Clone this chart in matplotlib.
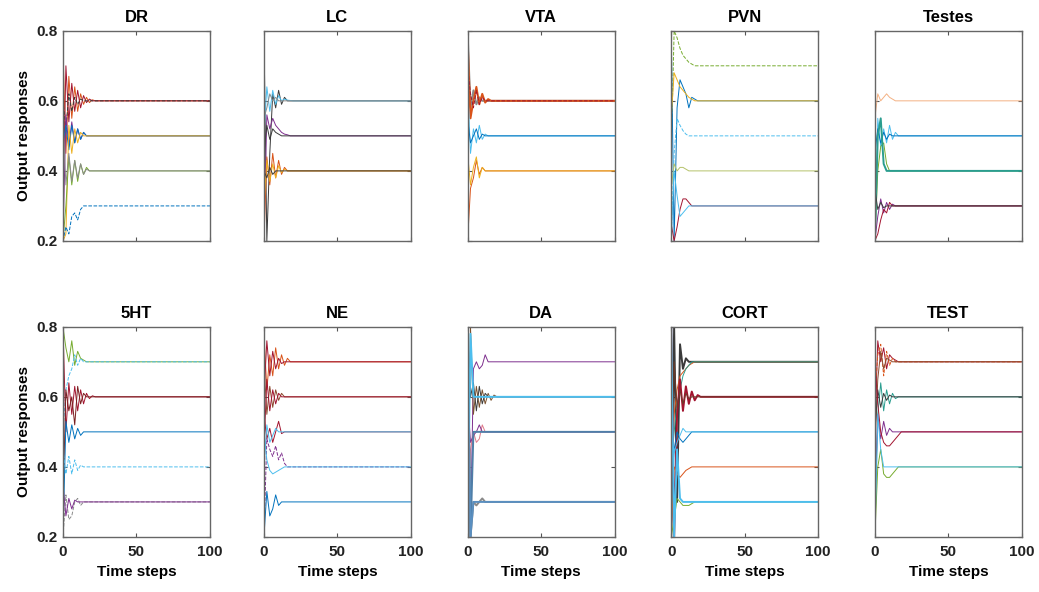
import matplotlib.pyplot as plt

plt.rcParams['font.family'] = ['Liberation Sans', 'DejaVu Sans']
plt.rcParams['font.weight'] = 'bold'

# output of each region: early transient sampled every 2 time steps from t=0,
# then the level the trace holds until t=100
sample_every = 2
titles = ['DR', 'LC', 'VTA', 'PVN', 'Testes', '5HT', 'NE', 'DA', 'CORT', 'TEST']

dr_early = [
    [0.75, 0.45, 0.67, 0.55, 0.64, 0.57, 0.62, 0.59, 0.61, 0.595, 0.603, 0.60],
    [0.30, 0.70, 0.54, 0.65, 0.57, 0.63, 0.58, 0.615, 0.595, 0.605, 0.60],
    [0.60, 0.52, 0.62, 0.57, 0.61, 0.59, 0.605, 0.60],
    [0.20, 0.56, 0.47, 0.54, 0.48, 0.52, 0.49, 0.51, 0.50],
    [0.48, 0.53, 0.46, 0.53, 0.48, 0.52, 0.49, 0.51, 0.50],
    [0.20, 0.22, 0.53, 0.45, 0.52, 0.48, 0.51, 0.50],
    [0.20, 0.30, 0.44, 0.36, 0.43, 0.37, 0.42, 0.39, 0.41, 0.40],
    [0.55, 0.36, 0.45, 0.37, 0.43, 0.38, 0.42, 0.39, 0.405, 0.40],
    [0.20, 0.24, 0.22, 0.27, 0.28, 0.26, 0.29, 0.30],
]
dr_hold = [0.6, 0.6, 0.6, 0.5, 0.5, 0.5, 0.4, 0.4, 0.3]

lc_early = [
    [0.80, 0.20, 0.45, 0.62, 0.58, 0.63, 0.59, 0.61, 0.60],
    [0.50, 0.64, 0.57, 0.63, 0.59, 0.615, 0.60, 0.605, 0.602, 0.601, 0.60],
    [0.55, 0.58, 0.62, 0.60, 0.61, 0.60],
    [0.20, 0.56, 0.52, 0.55, 0.53, 0.52, 0.51, 0.505, 0.503, 0.50],
    [0.45, 0.53, 0.49, 0.52, 0.51, 0.505, 0.50],
    [0.20, 0.44, 0.36, 0.45, 0.38, 0.43, 0.39, 0.41, 0.40],
    [0.30, 0.43, 0.37, 0.42, 0.38, 0.415, 0.395, 0.405, 0.40],
    [0.40, 0.38, 0.41, 0.39, 0.40],
]
lc_hold = [0.6, 0.6, 0.6, 0.5, 0.5, 0.4, 0.4, 0.4]

vta_early = [
    [0.80, 0.58, 0.63, 0.59, 0.61, 0.60],
    [0.78, 0.55, 0.60, 0.64, 0.59, 0.62, 0.595, 0.605, 0.60],
    [0.70, 0.62, 0.58, 0.63, 0.59, 0.61, 0.60],
    [0.65, 0.45, 0.52, 0.48, 0.53, 0.49, 0.505, 0.50],
    [0.55, 0.48, 0.50, 0.52, 0.49, 0.505, 0.50],
    [0.20, 0.35, 0.38, 0.43, 0.39, 0.41, 0.40],
    [0.45, 0.36, 0.41, 0.44, 0.38, 0.41, 0.40],
]
vta_hold = [0.6, 0.6, 0.6, 0.5, 0.5, 0.4, 0.4]

pvn_early = [
    [0.45, 0.80, 0.78, 0.75, 0.73, 0.72, 0.71, 0.705, 0.70],
    [0.80, 0.20, 0.58, 0.66, 0.64, 0.62, 0.58, 0.61, 0.605, 0.60],
    [0.55, 0.68, 0.66, 0.64, 0.63, 0.62, 0.61, 0.605, 0.60],
    [0.20, 0.45, 0.55, 0.53, 0.515, 0.505, 0.50],
    [0.35, 0.42, 0.40, 0.41, 0.41, 0.405, 0.40],
    [0.25, 0.20, 0.24, 0.29, 0.32, 0.32, 0.31, 0.30],
    [0.20, 0.40, 0.33, 0.27, 0.28, 0.29, 0.30],
]
pvn_hold = [0.7, 0.6, 0.6, 0.5, 0.4, 0.3, 0.3]

testes_early = [
    [0.55, 0.62, 0.60, 0.61, 0.62, 0.61, 0.605, 0.60],
    [0.20, 0.55, 0.47, 0.52, 0.48, 0.53, 0.49, 0.51, 0.50],
    [0.45, 0.52, 0.48, 0.51, 0.49, 0.505, 0.50],
    [0.20, 0.40, 0.47, 0.48, 0.42, 0.40],
    [0.20, 0.50, 0.55, 0.42, 0.40],
    [0.20, 0.27, 0.32, 0.28, 0.31, 0.29, 0.305, 0.30],
    [0.20, 0.22, 0.26, 0.29, 0.28, 0.31, 0.30],
    [0.35, 0.29, 0.31, 0.295, 0.30],
]
testes_hold = [0.6, 0.5, 0.5, 0.4, 0.4, 0.3, 0.3, 0.3]

ht5_early = [
    [0.80, 0.74, 0.70, 0.76, 0.69, 0.73, 0.71, 0.705, 0.70],
    [0.50, 0.62, 0.66, 0.68, 0.72, 0.69, 0.71, 0.70],
    [0.80, 0.50, 0.64, 0.55, 0.63, 0.56, 0.62, 0.58, 0.61, 0.595, 0.603, 0.60],
    [0.30, 0.62, 0.56, 0.60, 0.52, 0.63, 0.58, 0.61, 0.60],
    [0.20, 0.53, 0.47, 0.52, 0.48, 0.51, 0.49, 0.50],
    [0.45, 0.38, 0.43, 0.38, 0.42, 0.39, 0.405, 0.40],
    [0.20, 0.32, 0.25, 0.26, 0.30, 0.31, 0.29, 0.30],
    [0.35, 0.26, 0.31, 0.28, 0.305, 0.30],
]
ht5_hold = [0.7, 0.7, 0.6, 0.6, 0.5, 0.4, 0.3, 0.3]

ne_early = [
    [0.78, 0.62, 0.72, 0.66, 0.74, 0.68, 0.72, 0.69, 0.71, 0.70],
    [0.60, 0.76, 0.66, 0.73, 0.68, 0.71, 0.695, 0.70],
    [0.70, 0.55, 0.63, 0.57, 0.62, 0.59, 0.61, 0.60],
    [0.45, 0.65, 0.56, 0.62, 0.58, 0.61, 0.60],
    [0.55, 0.48, 0.51, 0.47, 0.50, 0.53, 0.495, 0.50],
    [0.40, 0.52, 0.47, 0.49, 0.51, 0.50],
    [0.20, 0.48, 0.45, 0.43, 0.46, 0.42, 0.44, 0.41, 0.40],
    [0.50, 0.42, 0.39, 0.38, 0.385, 0.39, 0.395, 0.40],
    [0.20, 0.33, 0.26, 0.28, 0.32, 0.29, 0.30],
]
ne_hold = [0.7, 0.7, 0.6, 0.6, 0.5, 0.5, 0.4, 0.4, 0.3]

da_early = [
    [0.80, 0.20, 0.68, 0.70, 0.68, 0.69, 0.72, 0.70],
    [0.20, 0.80, 0.55, 0.63, 0.57, 0.62, 0.58, 0.61, 0.59, 0.605, 0.60],
    [0.80, 0.60, 0.64, 0.56, 0.63, 0.58, 0.61, 0.60],
    [0.20, 0.45, 0.50, 0.47, 0.48, 0.52, 0.50],
    [0.60, 0.47, 0.49, 0.50, 0.52, 0.50],
    [0.80, 0.20, 0.30, 0.29, 0.30, 0.31, 0.30],
    [0.80, 0.20, 0.50, 0.50],
    [0.20, 0.78, 0.60, 0.60],
    [0.70, 0.20, 0.30, 0.30],
]
da_hold = [0.7, 0.6, 0.6, 0.5, 0.5, 0.3, 0.5, 0.6, 0.3]

cort_early = [
    [0.20, 0.80, 0.30, 0.75, 0.68, 0.71, 0.70],
    [0.30, 0.55, 0.62, 0.66, 0.67, 0.68, 0.69, 0.695, 0.70],
    [0.40, 0.50, 0.58, 0.62, 0.66, 0.68, 0.69, 0.70],
    [0.80, 0.20, 0.55, 0.65, 0.56, 0.63, 0.58, 0.615, 0.59, 0.605, 0.60],
    [0.25, 0.70, 0.57, 0.62, 0.58, 0.61, 0.595, 0.60],
    [0.20, 0.45, 0.50, 0.48, 0.47, 0.48, 0.49, 0.50],
    [0.50, 0.44, 0.47, 0.49, 0.51, 0.50],
    [0.20, 0.40, 0.38, 0.37, 0.38, 0.39, 0.395, 0.40],
    [0.20, 0.25, 0.31, 0.30, 0.29, 0.29, 0.29, 0.295, 0.30],
    [0.80, 0.20, 0.45, 0.31, 0.30],
]
cort_hold = [0.7, 0.7, 0.7, 0.6, 0.6, 0.5, 0.5, 0.4, 0.3, 0.3]

test_early = [
    [0.50, 0.76, 0.70, 0.74, 0.68, 0.72, 0.71, 0.705, 0.70],
    [0.60, 0.72, 0.75, 0.66, 0.73, 0.69, 0.71, 0.70],
    [0.45, 0.65, 0.73, 0.68, 0.71, 0.705, 0.70],
    [0.20, 0.55, 0.64, 0.56, 0.62, 0.58, 0.61, 0.595, 0.60],
    [0.50, 0.62, 0.57, 0.61, 0.59, 0.605, 0.60],
    [0.30, 0.55, 0.48, 0.53, 0.49, 0.51, 0.50],
    [0.70, 0.58, 0.50, 0.47, 0.46, 0.46, 0.47, 0.48, 0.49, 0.50],
    [0.20, 0.40, 0.45, 0.38, 0.37, 0.37, 0.38, 0.39, 0.40],
    [0.20, 0.55, 0.45, 0.40],
]
test_hold = [0.7, 0.7, 0.7, 0.6, 0.6, 0.5, 0.5, 0.4, 0.4]

panels = [
    (dr_early, dr_hold), (lc_early, lc_hold), (vta_early, vta_hold),
    (pvn_early, pvn_hold), (testes_early, testes_hold),
    (ht5_early, ht5_hold), (ne_early, ne_hold), (da_early, da_hold),
    (cort_early, cort_hold), (test_early, test_hold),
]

# matlab default line colours plus a couple of darks
mb, mo, my, mp = '#0072BD', '#D95319', '#EDB120', '#7E2F8E'
mg, mc, mr = '#77AC30', '#4DBEEE', '#A2142F'
dk, gr = '#3a3a3a', '#8a8a8a'

colors = [
    [mo, mr, dk, mp, mb, my, mg, gr, mb],
    [dk, mc, gr, mp, dk, mo, my, dk],
    [gr, mo, mr, mc, mb, mo, my],
    [mg, mb, my, mc, '#b5c26a', mr, mc],
    ['#f4b183', mc, mb, mg, '#2a9d8f', mp, mr, dk],
    [mg, mc, mr, '#7a1f1f', mb, mc, gr, mp],
    [mo, mr, '#8c4a2f', mr, mr, mc, mp, mc, mb],
    [mp, '#7a5230', dk, '#e07a8a', mp, gr, '#4f7fa8', mc, '#5a8fc0'],
    [dk, mo, '#2a9d8f', mr, '#6b3a2a', mb, mc, mo, mg, mc],
    [mr, mo, '#8c4a2f', '#2a9d8f', dk, mp, mr, mg, mc],
]
dashed = {(0, 2), (0, 8), (2, 2), (3, 0), (3, 3), (5, 1), (5, 5), (5, 6),
          (6, 6), (9, 1)}
# traces that start with a big swing and pile up into a band near t=0
heavy = {(2, 0), (2, 1), (7, 5), (7, 6), (7, 7), (7, 8), (8, 0), (8, 3),
         (8, 9), (4, 4)}

fig = plt.figure(figsize=(10.39, 5.92), dpi=100)
lefts = [0.0606, 0.254, 0.450, 0.646, 0.842]
w, h = 0.1415, 0.355

for k, (early, hold) in enumerate(panels):
    row, col = divmod(k, 5)
    bottom = 0.593 if row == 0 else 0.093
    ax = fig.add_axes([lefts[col], bottom, w, h])
    for j, (vals, level) in enumerate(zip(early, hold)):
        t = [i * sample_every for i in range(len(vals))] + [100]
        ls = '--' if (k, j) in dashed else '-'
        lw = 1.4 if (k, j) in heavy else 0.7
        ax.plot(t, vals + [level], color=colors[k][j], lw=lw, ls=ls)
    ax.set_xlim(0, 100)
    ax.set_ylim(0.2, 0.8)
    ax.set_xticks([0, 50, 100])
    ax.set_yticks([0.2, 0.4, 0.6, 0.8])
    ax.tick_params(direction='in', top=True, right=True, length=3,
                   labelsize=11, colors='#555555', labelcolor='#222222')
    ax.tick_params(axis='x', pad=6)
    for s in ax.spines.values():
        s.set_color('#666666')
        s.set_linewidth(1.0)
    ax.set_title(titles[k], fontsize=12, fontweight='bold', pad=6)
    if col > 0:
        ax.set_yticklabels([])
    else:
        ax.set_yticklabels(['0.2', '0.4', '0.6', '0.8'])
        ax.set_ylabel('Output responses', fontsize=11, fontweight='bold')
    if row == 0:
        ax.set_xticklabels([])
    else:
        ax.set_xlabel('Time steps', fontsize=11, fontweight='bold', labelpad=4)

fig.savefig('out.png', dpi=100)
